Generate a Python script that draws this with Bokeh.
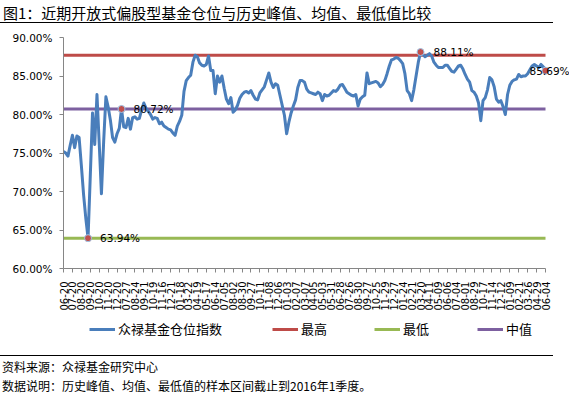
import math
from bokeh.plotting import figure
from bokeh.models import (Range1d, FixedTicker, PrintfTickFormatter, Label, Legend,
                          LegendItem, Div)
from bokeh.layouts import column
from bokeh.embed import file_html
from bokeh.resources import INLINE

# ---------------- data ----------------
position_index = [
    75.2, 75.0, 74.6, 76.0, 77.3, 75.7, 77.2, 77.0, 73.4, 69.6,
    66.5, 63.94, 72.0, 80.2, 76.1, 82.6, 76.3, 69.7, 76.5, 82.3,
    81.0, 79.3, 77.0, 76.4, 77.5, 78.2, 80.72, 78.4, 78.3, 79.5,
    78.1, 79.6, 79.7, 79.4, 79.5, 80.6, 81.5, 80.8, 80.4, 80.0,
    79.4, 79.6, 79.5, 78.8, 79.0, 78.5, 78.3, 78.1, 78.0, 77.6,
    77.3, 78.5, 79.1, 79.9, 83.0, 84.4, 84.8, 85.1, 86.8, 87.7,
    87.5, 86.7, 86.4, 86.3, 86.5, 87.6, 85.7, 85.7, 82.7, 85.0,
    84.2, 85.0, 83.4, 82.0, 81.4, 82.2, 80.3, 80.6, 81.2, 82.1,
    82.6, 82.9, 83.0, 82.8, 83.1, 82.5, 82.0, 81.9, 82.8, 83.2,
    83.6, 84.5, 85.4, 84.2, 83.5, 84.0, 83.8, 82.5, 81.2, 79.9,
    77.5, 79.0, 80.2, 81.1, 81.9, 83.5, 84.4, 84.4, 84.2, 83.3,
    82.9, 82.8, 82.7, 82.6, 82.9, 82.7, 81.8, 82.6, 82.4, 82.5,
    82.8, 83.1, 83.0, 83.3, 83.8, 83.9, 83.4, 82.9, 82.7, 82.5,
    82.4, 82.6, 81.1, 82.0, 82.3, 82.5, 85.4, 84.0, 84.1, 84.2,
    84.3, 84.1, 83.6, 83.9, 84.4, 85.3, 86.3, 87.1, 87.2, 87.4,
    87.3, 87.0, 86.6, 85.3, 83.1, 82.7, 81.8, 83.2, 85.0, 86.8,
    88.11, 87.8, 87.5, 87.7, 87.9, 87.6, 86.8, 86.4, 86.1, 86.1,
    86.1, 86.4, 86.4, 86.0, 85.6, 85.5, 85.9, 86.3, 86.4, 85.9,
    85.2, 84.6, 84.2, 83.1, 82.9, 82.4, 81.5, 79.2, 81.8, 82.2,
    83.2, 84.8, 84.5, 83.6, 82.0, 81.6, 81.8, 81.0, 80.0, 82.6,
    83.8, 84.3, 84.5, 84.6, 85.2, 84.9, 85.0, 85.0, 85.3, 85.8,
    86.3, 86.5, 86.3, 86.1, 86.5, 86.2, 85.69,
]
tick_labels = [
    "06-20", "07-20", "08-20", "09-20", "10-20", "11-20", "12-20", "07-27", "08-24",
    "09-21", "10-19", "11-16", "12-21", "01-18", "03-22", "04-19", "05-17", "06-14",
    "07-05", "08-02", "08-30", "09-27", "10-11", "11-08", "12-06", "01-03", "02-07",
    "03-07", "04-05", "05-03", "05-31", "06-28", "07-26", "08-30", "09-27", "10-25",
    "11-29", "12-27", "01-24", "02-21", "03-20", "04-11", "05-09", "06-06", "07-04",
    "08-01", "08-29", "10-17", "11-14", "12-12", "01-09", "02-21", "03-26", "04-29",
    "06-04",
]
hist_max = 87.70
hist_min = 63.94
hist_median = 80.72
series_names = ["众禄基金仓位指数", "最高", "最低", "中值"]
series_colors = ["#4A7EBB", "#BE4B48", "#98B954", "#7D60A0"]
title_text = "图1：近期开放式偏股型基金仓位与历史峰值、均值、最低值比较"
source_text = "资料来源：众禄基金研究中心"
note_text = "数据说明：历史峰值、均值、最低值的样本区间截止到2016年1季度。"

# ---------------- layout constants ----------------
W, H = 569, 393
TITLE_H = 24          # title block: page y 0..24
PLOT_BOTTOM = 318     # main figure: page y 24..318
LEG_H = 28            # legend strip: page y 318..346
FOOT_H = H - PLOT_BOTTOM - LEG_H
FL, FT, FB = 63, 37, 268          # frame edges in page px
DATA_R = 545                      # right end of the plotted data in page px
LEGEND_X = [89, 272, 374, 477]    # left of each legend item, page px
LEGEND_CY = 331
CJK = "Noto Sans CJK SC"
NUM = "DejaVu Sans"

n = len(position_index)
xs = list(range(n))
label_step = (n - 1) // (len(tick_labels) - 1)
tick_pos = [i * label_step for i in range(len(tick_labels))]
x_end = (n - 1) * (W - FL) / (DATA_R - FL)
fig_h = PLOT_BOTTOM - TITLE_H

p = figure(width=W, height=fig_h, output_backend="svg", toolbar_location=None,
           x_range=Range1d(0, x_end), y_range=Range1d(60, 90),
           min_border_left=FL, min_border_right=0,
           min_border_top=FT - TITLE_H, min_border_bottom=PLOT_BOTTOM - FB,
           margin=0)
p.outline_line_color = None
p.background_fill_color = "white"
p.border_fill_color = "white"
p.xgrid.visible = False
p.ygrid.visible = False

# y axis
p.yaxis.ticker = FixedTicker(ticks=[60, 65, 70, 75, 80, 85, 90])
p.yaxis.formatter = PrintfTickFormatter(format="%.2f%%")
p.yaxis.axis_line_color = "#868686"
p.yaxis.major_tick_line_color = "#868686"
p.yaxis.major_tick_out = 4
p.yaxis.major_tick_in = 0
p.yaxis.minor_tick_line_color = None
p.yaxis.major_label_standoff = 7
p.yaxis.major_label_text_font = NUM
p.yaxis.major_label_text_font_size = "10.5px"
p.yaxis.major_label_text_color = "#000000"

# x axis
p.xaxis.ticker = FixedTicker(ticks=tick_pos)
p.xaxis.major_label_overrides = {t: lab for t, lab in zip(tick_pos, tick_labels)}
p.xaxis.major_label_orientation = math.pi / 2
p.xaxis.bounds = (0, n - 1)
p.xaxis.axis_line_color = "#868686"
p.xaxis.major_tick_line_color = "#868686"
p.xaxis.major_tick_out = 4
p.xaxis.major_tick_in = 0
p.xaxis.minor_tick_line_color = None
p.xaxis.major_label_standoff = 9
p.xaxis.major_label_text_font = NUM
p.xaxis.major_label_text_font_size = "10px"
p.xaxis.major_label_text_color = "#000000"

# reference lines and main series
ends = [0, n - 1]
p.line(ends, [hist_max] * 2, line_color=series_colors[1], line_width=3)
p.line(ends, [hist_min] * 2, line_color=series_colors[2], line_width=3)
p.line(ends, [hist_median] * 2, line_color=series_colors[3], line_width=3)
p.line(xs, position_index, line_color=series_colors[0], line_width=3,
       line_join="round")

# marked points
i_min = position_index.index(min(position_index))
i_med = position_index.index(hist_median)
i_max = position_index.index(max(position_index))
i_last = n - 1
marks = [i_min, i_med, i_max, i_last]
p.scatter([xs[i] for i in marks], [position_index[i] for i in marks], size=7,
          fill_color="#C0504D", line_color="#9DC3E6", line_width=1)
offsets = [12, 12, 13, -16]
for i, off in zip(marks, offsets):
    p.add_layout(Label(x=xs[i], y=position_index[i], text="%.2f%%" % position_index[i],
                       x_offset=off, text_baseline="middle", text_font=NUM,
                       text_font_size="10.5px", text_color="#000000"))

# legend strip: a small figure; its frame is aligned with the main frame (left = FL)
leg = figure(width=W, height=LEG_H, output_backend="svg", toolbar_location=None,
             x_range=Range1d(0, 1), y_range=Range1d(0, 1), x_axis_type=None,
             y_axis_type=None, min_border_left=FL, min_border_right=0,
             min_border_top=0, min_border_bottom=0, margin=0)
leg.outline_line_color = None
leg.xgrid.visible = False
leg.ygrid.visible = False
for lx, name, color in zip(LEGEND_X, series_names, series_colors):
    # legend proxy renderer, kept outside the strip's visible range
    r = leg.line([-3, -2], [-3, -2], line_color=color, line_width=3)
    leg.add_layout(Legend(items=[LegendItem(label=name, renderers=[r])],
                          location=(lx - FL, LEG_H - (LEGEND_CY - PLOT_BOTTOM) - 7),
                          orientation="horizontal", glyph_width=26, glyph_height=14,
                          label_height=14, label_standoff=3, padding=0, margin=0,
                          spacing=0, border_line_color=None, background_fill_alpha=0,
                          label_text_font=CJK, label_text_font_size="13px",
                          label_text_color="#000000"), "center")

title_div = Div(
    text=("<div style=\"width:553px;height:23px;box-sizing:border-box;"
          "border-bottom:1px solid #000;padding:4px 0 0 3px;line-height:18px;"
          "font-family:'%s';font-size:15px;color:#000;white-space:nowrap;\">%s</div>")
    % (CJK, title_text),
    width=W, height=TITLE_H, margin=0)
foot_div = Div(
    text=("<div style=\"width:553px;height:%dpx;box-sizing:border-box;padding-top:9px;"
          "font-family:'%s';font-size:12px;color:#000;white-space:nowrap;overflow:hidden;\">"
          "<div style=\"border-top:1px solid #000;height:0;\"></div>"
          "<div style=\"padding-left:2px;height:20px;line-height:21px;\">%s</div>"
          "<div style=\"padding-left:2px;height:17px;line-height:19px;\">%s</div></div>")
    % (FOOT_H, CJK, source_text, note_text),
    width=W, height=FOOT_H, margin=0)

layout = column(title_div, p, leg, foot_div, spacing=0, margin=0)
open("out.html", "w").write(file_html(layout, INLINE))
